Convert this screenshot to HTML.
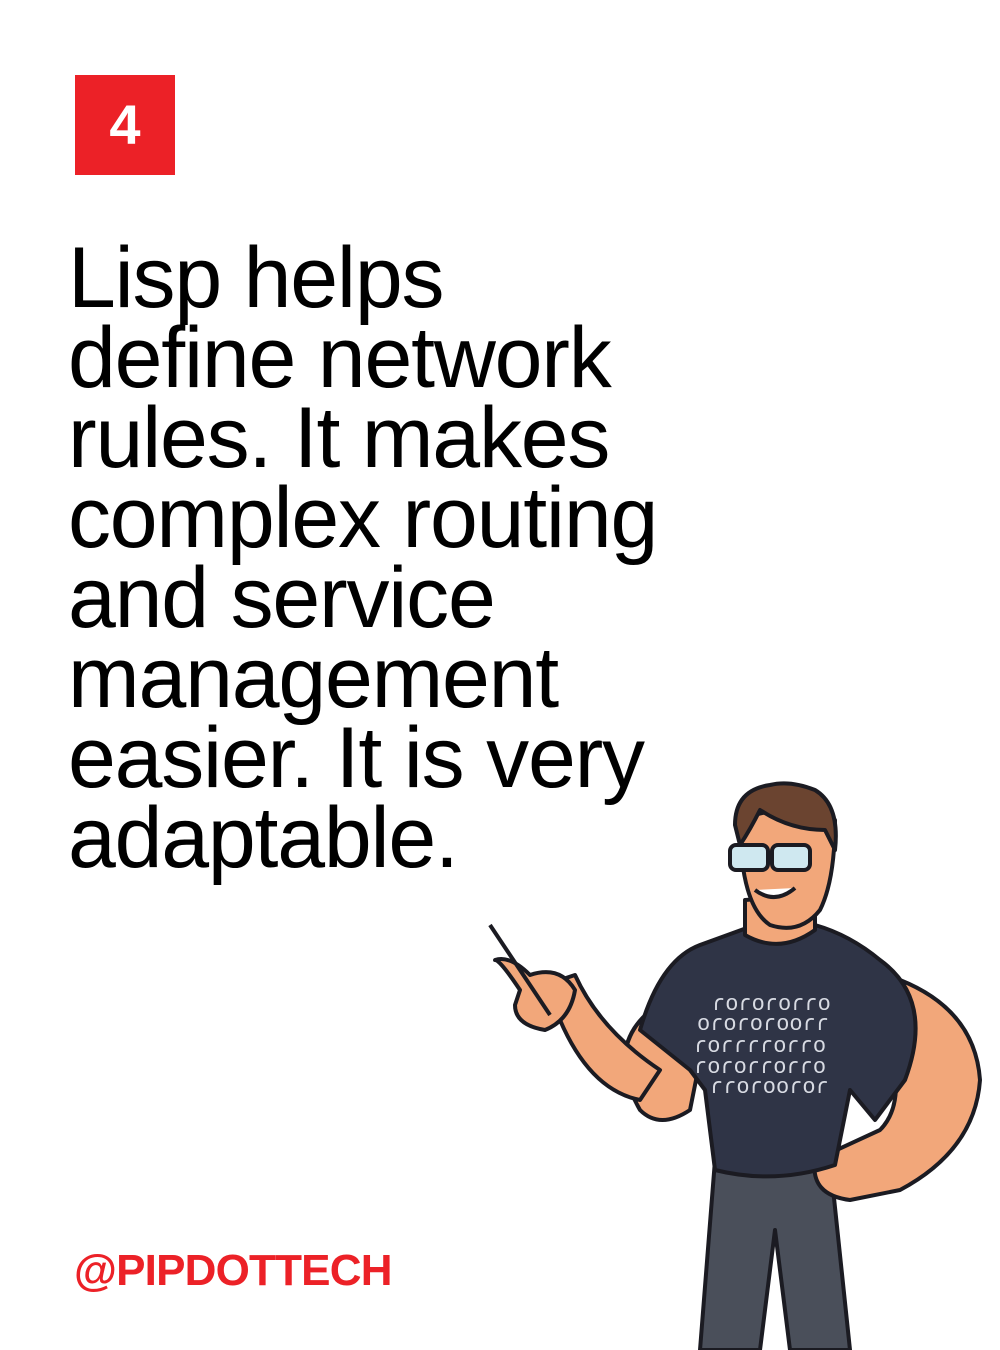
<!DOCTYPE html>
<html><head><meta charset="utf-8"><style>
html,body{margin:0;padding:0;background:#fff;}
body{width:1000px;height:1350px;position:relative;overflow:hidden;font-family:"Liberation Sans",sans-serif;}
.badge{position:absolute;left:75px;top:75px;width:100px;height:100px;background:#ec2127;color:#fff;font-weight:bold;font-size:56px;line-height:100px;text-align:center;}
.t{position:absolute;left:68px;font-size:86px;line-height:80px;color:#000;letter-spacing:-1.2px;white-space:nowrap;}
.h{position:absolute;left:74px;top:1246px;font-size:44px;font-weight:bold;color:#ec2127;letter-spacing:-0.8px;line-height:50px;}
</style></head><body>
<div class="badge">4</div>
<div class="t" style="top:-5px;">
<div style="position:absolute;top:243px;">Lisp helps</div>
<div style="position:absolute;top:323px;">define network</div>
<div style="position:absolute;top:403px;">rules. It makes</div>
<div style="position:absolute;top:483px;">complex routing</div>
<div style="position:absolute;top:563px;">and service</div>
<div style="position:absolute;top:643px;">management</div>
<div style="position:absolute;top:723px;">easier. It is very</div>
<div style="position:absolute;top:803px;">adaptable.</div>
</div>
<div class="h">@PIPDOTTECH</div>
<svg style="position:absolute;left:0;top:0" width="1000" height="1350" viewBox="0 0 1000 1350">
<g stroke="#1b1b22" stroke-width="4" stroke-linejoin="round">
<path d="M715 1160 L700 1350 L760 1350 L775 1230 L790 1350 L850 1350 L830 1160 Z" fill="#4a4f5a"/>
<path d="M900 980 Q975 1010 980 1080 Q975 1150 900 1190 L850 1200 Q810 1195 815 1160 L880 1130 Q900 1110 895 1070 Z" fill="#f2a77a"/>
<path d="M665 1000 Q600 1040 640 1110 Q660 1130 690 1110 L700 1060 Z" fill="#f2a77a"/>
<path d="M640 1100 Q590 1090 560 1020 L545 985 L575 975 Q600 1030 660 1070 Z" fill="#f2a77a"/>
<path d="M520 990 Q500 960 495 960 Q510 955 530 975 Q560 965 575 990 Q570 1020 545 1030 Q515 1025 515 1005 Z" fill="#f2a77a"/>
<line x1="490" y1="925" x2="550" y2="1015" stroke-width="4"/>
<path d="M700 945 Q660 960 640 1030 L690 1070 L705 1090 L715 1170 Q775 1185 835 1165 L850 1090 L875 1120 L905 1080 Q935 1000 880 960 Q850 935 815 925 L755 925 Z" fill="#2f3446"/>
<path d="M745 900 L745 935 Q780 955 815 930 L815 895 Z" fill="#f2a77a"/>
<path d="M740 820 Q740 905 770 925 Q800 935 820 910 Q835 880 835 820 Q790 800 740 820 Z" fill="#f2a77a"/>
<path d="M735 825 Q735 790 770 785 Q790 780 815 790 Q840 805 835 850 L825 830 Q790 830 760 810 Q750 830 740 845 Z" fill="#6b4430"/>
<rect x="730" y="845" width="38" height="25" rx="6" fill="#cfe8f0"/>
<rect x="772" y="845" width="38" height="25" rx="6" fill="#cfe8f0"/>
<path d="M755 890 Q775 905 795 888" fill="#fff"/>
</g>
<g fill="#d8dbe3" font-family="Liberation Mono,monospace" font-size="22">
<text x="712" y="1010">ɾoɾoɾoɾɾo</text>
<text x="697" y="1030">oɾoɾoɾooɾɾ</text>
<text x="694" y="1052">ɾoɾɾɾɾoɾɾo</text>
<text x="694" y="1073">ɾoɾoɾɾoɾɾo</text>
<text x="710" y="1093">ɾɾoɾooɾoɾ</text>
</g>
</svg>
</body></html>
